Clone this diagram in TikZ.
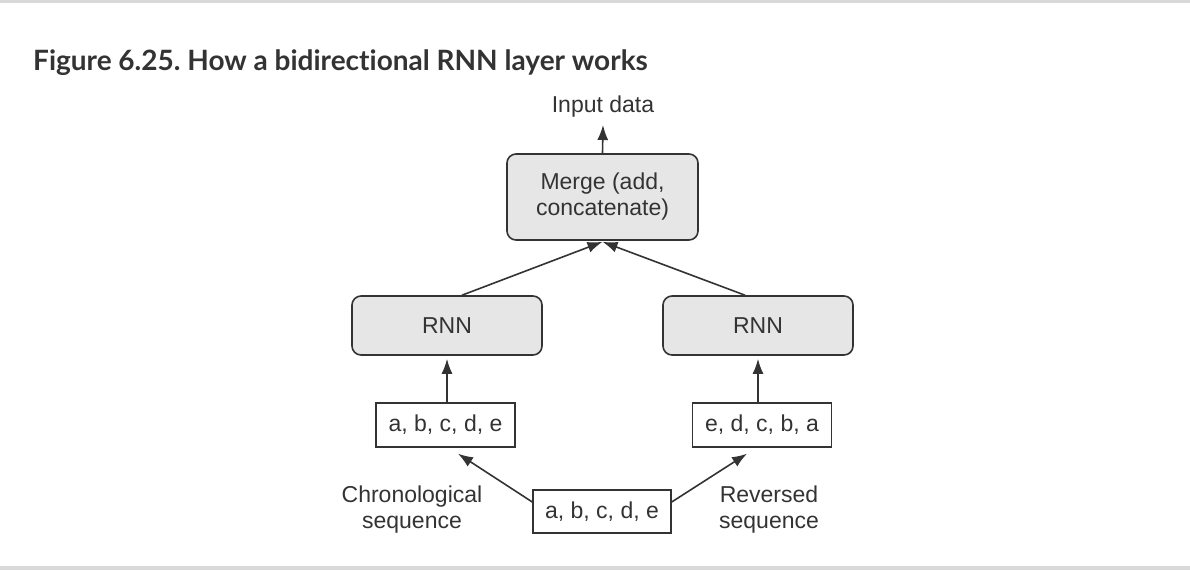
\documentclass[tikz,border=0pt]{standalone}
\usepackage{fontspec}
\setmainfont{Liberation Sans}
\newfontfamily\titlefont[Ligatures=NoCommon]{Lato}
\usetikzlibrary{arrows.meta}
\definecolor{boxgray}{HTML}{E6E6E6}
\definecolor{inkgray}{HTML}{333333}
\definecolor{framegray}{HTML}{D9D9D9}
\frenchspacing

\begin{document}
\begin{tikzpicture}[x=1pt,y=1pt,
  every node/.style={text=inkgray,font=\fontsize{23}{26}\selectfont},
  layerbox/.style={draw=inkgray,line width=1.6pt,fill=boxgray,rounded corners=9pt,align=center,inner sep=0pt},
  seqbox/.style={draw=inkgray,line width=1.4pt,fill=white,minimum width=139pt,minimum height=44pt,inner sep=0pt},
  flow/.style={draw=inkgray,line width=1.6pt,-{Latex[length=15pt,width=11pt]}}]
\useasboundingbox (0,0) rectangle (1190,-570);
\fill[framegray] (0,0) rectangle (1190,-3);
\fill[framegray] (0,-566) rectangle (1190,-570);

\node[anchor=base west,inner sep=0pt,font=\titlefont\bfseries\fontsize{28}{32}\selectfont,text=inkgray] (title) at (33,-70) {Figure 6.25. How a bidirectional RNN layer works};

\node[anchor=base,inner xsep=0pt,inner ysep=8pt] (input) at (603,-112) {Input data};
\node[layerbox,minimum width=191pt,minimum height=86pt] (merge) at (602.5,-197) {Merge (add,\\concatenate)};

\node[layerbox,minimum width=190pt,minimum height=59pt] (rnnl) at (447,-325.5) {RNN};
\node[layerbox,minimum width=190pt,minimum height=59pt] (rnnr) at (758,-325.5) {RNN};

\node[seqbox] (seql) at (445.5,-425) {a, b, c, d, e};
\node[seqbox] (seqr) at (762,-425) {e, d, c, b, a};
\node[seqbox,minimum width=138pt,minimum height=43pt] (seqin) at (602,-511.5) {a, b, c, d, e};

\node[align=center,inner sep=0pt] (chrono) at (412,-510) {Chronological\\sequence};
\node[align=center,inner sep=0pt] (revd) at (769,-510) {Reversed\\sequence};

\draw[flow] (merge.north) -- (input.south);
\draw[flow] ([xshift=15pt]rnnl.north) -- ([yshift=-1pt]merge.south);
\draw[flow] ([xshift=-13pt]rnnr.north) -- ([yshift=-1pt]merge.south);
\draw[flow,shorten >=3pt] ([xshift=1.5pt]seql.north) -- (rnnl.south);
\draw[flow,shorten >=3pt] ([xshift=-4pt]seqr.north) -- (rnnr.south);
\draw[flow] ([yshift=9.5pt]seqin.west) -- ([xshift=12.5pt,yshift=-6pt]seql.south);
\draw[flow] ([yshift=9.5pt]seqin.east) -- ([xshift=-15pt,yshift=-6pt]seqr.south);
\end{tikzpicture}
\end{document}
